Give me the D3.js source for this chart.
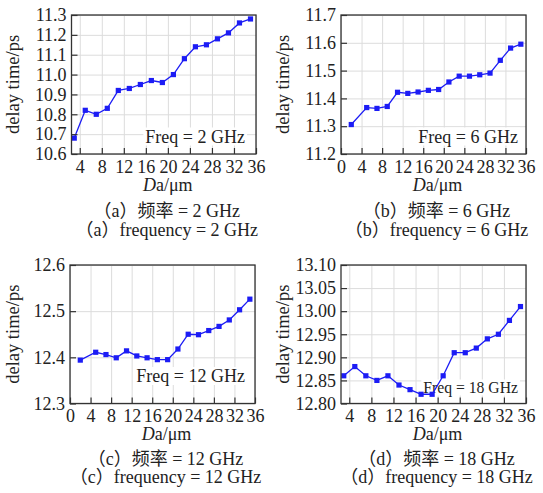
<!DOCTYPE html>
<html>
<head>
<meta charset="utf-8">
<script src="https://cdn.jsdelivr.net/npm/d3@7"></script>
<style>
  body { margin: 0; background: #fff; }
  text { font-family: "Liberation Serif", "Noto Sans CJK SC", serif; fill: #222; }
  .grid line { stroke: #dcdcdc; stroke-width: 1; }
  .grid path { display: none; }
  .axis path { display: none; }
  .axis line { stroke: #333; stroke-width: 1.2; }
</style>
</head>
<body>
<div id="chart"></div>
<script>
// Da values (um)
var xA = [3,5,7,9,11,13,15,17,19,21,23,25,27,29,31,33,35];
var xB = [2,5,7,9,11,13,15,17,19,21,23,25,27,29,31,33,35];
var xC = [2,5,7,9,11,13,15,17,19,21,23,25,27,29,31,33,35];
var xD = [3,5,7,9,11,13,15,17,19,21,23,25,27,29,31,33,35];

// delay time (ps)
var delay2 = [10.68,10.82,10.80,10.83,10.92,10.93,10.95,10.97,10.96,11.00,11.08,11.14,11.15,11.18,11.21,11.26,11.28];
var delay6 = [11.306,11.367,11.364,11.371,11.422,11.418,11.423,11.429,11.432,11.459,11.48,11.48,11.485,11.491,11.537,11.581,11.595];
var delay12 = [12.394,12.411,12.406,12.399,12.414,12.403,12.399,12.395,12.395,12.418,12.45,12.449,12.458,12.467,12.481,12.503,12.526];
var delay18 = [12.86,12.88,12.86,12.85,12.86,12.84,12.83,12.82,12.82,12.86,12.91,12.91,12.92,12.94,12.95,12.98,13.01];

var xTicksFull = [0,4,8,12,16,20,24,28,32,36];
var xTicksShort = [4,8,12,16,20,24,28,32,36];
var yTicksA = [10.6,10.7,10.8,10.9,11.0,11.1,11.2,11.3];
var yTicksB = [11.2,11.3,11.4,11.5,11.6,11.7];
var yTicksC = [12.3,12.4,12.5,12.6];
var yTicksD = [12.80,12.85,12.90,12.95,13.00,13.05,13.10];

var freqLabels = ["Freq = 2 GHz","Freq = 6 GHz","Freq = 12 GHz","Freq = 18 GHz"];
var captionCn = ["（a）频率 = 2 GHz","（b）频率 = 6 GHz","（c）频率 = 12 GHz","（d）频率 = 18 GHz"];
var captionEn = ["（a）frequency = 2 GHz","（b）frequency = 6 GHz","（c）frequency = 12 GHz","（d）frequency = 18 GHz"];

const W = 543, H = 493, LINE = "#1c1cf5", FS = 18;

var svg = d3.select("#chart").append("svg").attr("width", W).attr("height", H);

// fx/fy: right end and baseline offset of the Freq label; cy: caption shift
var panels = [
  {left: 71.5, top: 15, w: 184.5, h: 139, xd: [2.5,36], xt: xTicksShort, yt: yTicksA, fmt: ".1f", x: xA, y: delay2, fs: 18, fx: 11, fy: 11.5, yl: 19, cy: 0},
  {left: 341, top: 15, w: 185, h: 139, xd: [0,36], xt: xTicksFull, yt: yTicksB, fmt: ".1f", x: xB, y: delay6, fs: 18, fx: 8, fy: 11.5, yl: 289, cy: 0},
  {left: 70, top: 265, w: 185, h: 138.5, xd: [0,36], xt: xTicksFull, yt: yTicksC, fmt: ".1f", x: xC, y: delay12, fs: 18, fx: 10, fy: 21.5, yl: 19, cy: -2},
  {left: 341, top: 265, w: 185, h: 138.5, xd: [2.5,36], xt: xTicksShort, yt: yTicksD, fmt: ".2f", x: xD, y: delay18, fs: 15.7, fx: 8, fy: 11, yl: 289, cy: -2}
];

panels.forEach(function(p, i) {
  var g = svg.append("g").attr("transform", "translate(" + p.left + "," + p.top + ")");
  var x = d3.scaleLinear().domain(p.xd).range([0, p.w]);
  var y = d3.scaleLinear().domain([p.yt[0], p.yt[p.yt.length - 1]]).range([p.h, 0]);

  // grid
  g.append("g").attr("class", "grid")
    .attr("transform", "translate(0," + p.h + ")")
    .call(d3.axisBottom(x).tickValues(p.xt).tickSize(-p.h).tickFormat(""));
  g.append("g").attr("class", "grid")
    .call(d3.axisLeft(y).tickValues(p.yt).tickSize(-p.w).tickFormat(""));

  // freq label with white box behind
  var fl = g.append("text")
    .attr("x", p.w - p.fx).attr("y", p.h - p.fy)
    .attr("text-anchor", "end")
    .style("font-size", p.fs + "px")
    .text(freqLabels[i]);
  var bb = fl.node().getBBox();
  g.insert("rect", function() { return fl.node(); })
    .attr("x", bb.x - 2).attr("y", bb.y + 1)
    .attr("width", bb.width + 4).attr("height", bb.height - 2)
    .attr("fill", "#fff");

  // line and markers
  var pts = p.x.map(function(d, k) { return [d, p.y[k]]; });
  g.append("path")
    .datum(pts)
    .attr("fill", "none")
    .attr("stroke", LINE)
    .attr("stroke-width", 1.3)
    .attr("d", d3.line().x(function(d) { return x(d[0]); }).y(function(d) { return y(d[1]); }));
  g.selectAll("rect.mk").data(pts).enter().append("rect")
    .attr("class", "mk")
    .attr("x", function(d) { return x(d[0]) - 2.6; })
    .attr("y", function(d) { return y(d[1]) - 2.6; })
    .attr("width", 5.2).attr("height", 5.2)
    .attr("fill", LINE);

  // axes, ticks inward
  var ax = g.append("g").attr("class", "axis")
    .attr("transform", "translate(0," + p.h + ")")
    .call(d3.axisBottom(x).tickValues(p.xt).tickSize(-6).tickPadding(6).tickFormat(d3.format("d")));
  ax.selectAll("text").style("font-size", FS + "px").attr("fill", "#222");
  var ay = g.append("g").attr("class", "axis")
    .call(d3.axisLeft(y).tickValues(p.yt).tickSize(-6).tickPadding(5).tickFormat(d3.format(p.fmt)));
  ay.selectAll("text").style("font-size", FS + "px").attr("fill", "#222");

  // frame
  g.append("rect")
    .attr("width", p.w).attr("height", p.h)
    .attr("fill", "none").attr("stroke", "#333").attr("stroke-width", 1.3);

  // y title
  g.append("text")
    .attr("transform", "translate(" + (p.yl - p.left) + "," + (p.h / 2) + ") rotate(-90)")
    .attr("text-anchor", "middle")
    .style("font-size", (FS + 0.5) + "px")
    .text("delay time/ps");

  // x title
  var xt = g.append("text")
    .attr("x", p.w / 2 + 4).attr("y", p.h + 36.5)
    .attr("text-anchor", "middle")
    .style("font-size", FS + "px");
  xt.append("tspan").style("font-style", "italic").text("D");
  xt.append("tspan").text("a/μm");

  // captions
  g.append("text")
    .attr("x", p.w / 2 + 3).attr("y", p.h + 63 + p.cy)
    .attr("text-anchor", "middle")
    .style("font-size", FS + "px")
    .text(captionCn[i]);
  g.append("text")
    .attr("x", p.w / 2 + 3).attr("y", p.h + 81.5 + p.cy)
    .attr("text-anchor", "middle")
    .style("font-size", FS + "px")
    .text(captionEn[i]);
});
</script>
</body>
</html>
